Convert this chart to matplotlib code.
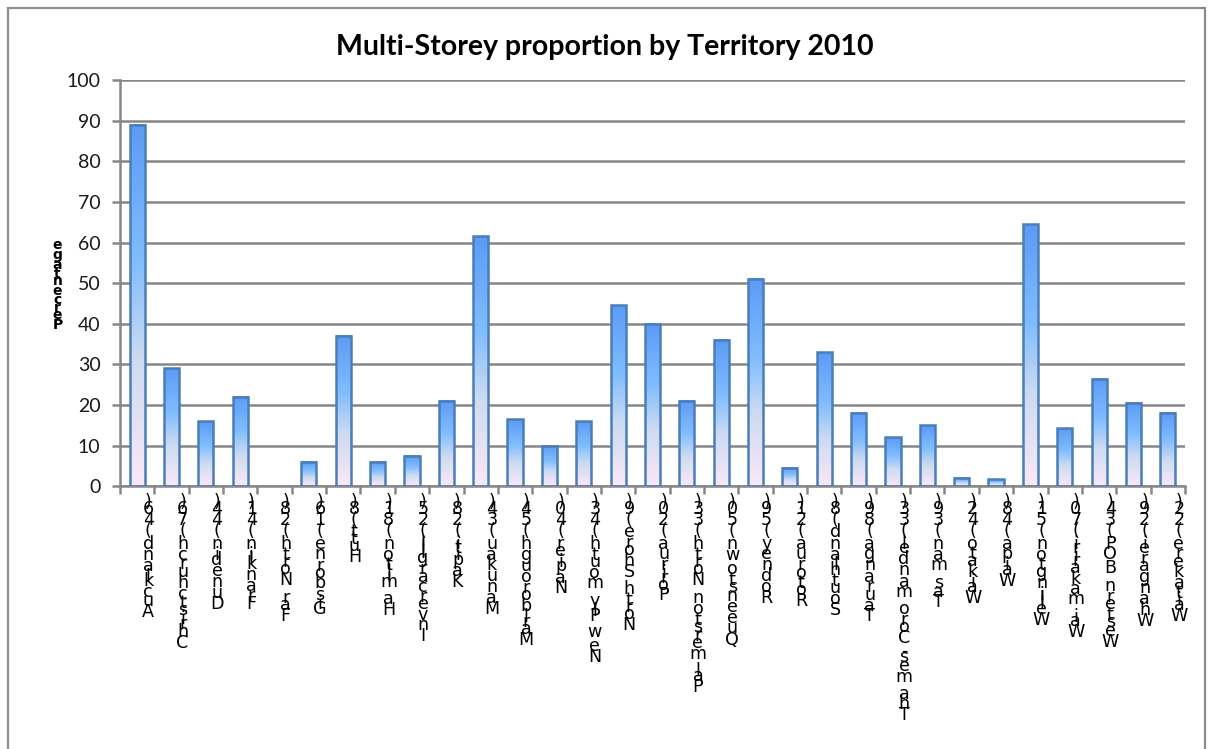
import numpy as np
import matplotlib
matplotlib.use('Agg')
import matplotlib.pyplot as plt
from matplotlib.colors import LinearSegmentedColormap
from matplotlib.font_manager import FontProperties, findfont, get_font
from matplotlib.patches import Rectangle

# Data
territories = ['Auckland (46)', 'Christchurch (76)', 'Dunedin (44)', 'Franklin (41)',
               'Far North (28)', 'Gisborne (16)', 'Hutt (8)', 'Hamilton (81)',
               'Invercargill (25)', 'Kapiti (28)', 'Manukau (34)', 'Marlborough (54)',
               'Napier (40)', 'New Plymouth (43)', 'North Shore (9)', 'Porirua (20)',
               'Palmerston North (33)', 'Queenstown (50)', 'Rodney (59)', 'Rotorua (21)',
               'Southland (8)', 'Tauranga (89)', 'Thames-Coromandel (33)', 'Tasman (39)',
               'Waikato (42)', 'Waipa (48)', 'Wellington (51)', 'Waimakariri (70)',
               'Western BOP (34)', 'Whangarei (29)', 'Waitakere (22)']
values = [89, 29, 16, 22, 0, 6, 37, 6, 7.5, 21, 61.5, 16.5, 10, 16, 44.5, 40,
          21, 36, 51, 4.5, 33, 18, 12, 15, 2, 1.7, 64.5, 14.2, 26.5, 20.5, 18]
y_ticks = list(range(0, 101, 10))

grey = '#878787'

fig = plt.figure(figsize=(12.14, 7.49), dpi=100)
ax = fig.add_axes([0.0988, 0.351, 0.8773, 0.542])

# Excel style gradient fill: blue top fading to pale pink at the bottom
grad = LinearSegmentedColormap.from_list(
    'excel', [(0, '#fbe8f7'), (0.35, '#cddbf1'), (0.62, '#80bdfe'), (1, '#5b9bf5')])
g = np.linspace(0, 1, 256).reshape(-1, 1)

x = np.arange(len(values))
width = 0.44
for xi, v in zip(x, values):
    if v > 0:
        ax.imshow(g, cmap=grad, origin='lower', aspect='auto', zorder=2,
                  extent=(xi - width / 2, xi + width / 2, 0, v))
        ax.bar(xi, v, width, facecolor='none', edgecolor='#4a7ebb',
               linewidth=1.8, zorder=3)

ax.set_xlim(-0.5, len(values) - 0.5)
ax.set_ylim(0, 100)
ax.set_yticks(y_ticks)
ax.set_xticks(np.arange(-0.5, len(values), 1))
ax.set_xticklabels([])
ax.yaxis.grid(True, color=grey, linewidth=1.8)
ax.set_axisbelow(True)
for s in ['top', 'right']:
    ax.spines[s].set_visible(False)
for s in ['left', 'bottom']:
    ax.spines[s].set_color(grey)
    ax.spines[s].set_linewidth(1.8)
ax.tick_params(axis='both', direction='out', length=6, width=1.8, color=grey)
ax.tick_params(axis='y', labelsize=14, pad=8, labelcolor='#1a1a1a')
for lab in ax.get_yticklabels():
    lab.set_family('Lato')


# Excel vertical text: upright characters stacked top to bottom (last one on top),
# each one advanced by its own width, so narrow glyphs overlap
def stacked(text, xy, xycoords, dx, start, prop, center=False):
    font = get_font(findfont(prop))
    font.set_size(prop.get_size_in_points(), 72)
    chars = list(reversed(text))
    advs = [font.load_char(ord(c)).linearHoriAdvance / 65536 for c in chars]
    if center:
        start = -sum(advs) / 2
    pos = start
    for c, a in zip(chars, advs):
        if c != ' ':
            ax.annotate(c, xy=xy, xycoords=xycoords, xytext=(dx, -pos),
                        textcoords='offset points', ha='center', va='top',
                        fontproperties=prop, annotation_clip=False)
        pos += a


lab_prop = FontProperties(family='DejaVu Sans', size=12.6)
for xi, name in zip(x, territories):
    stacked(name, (xi, 0), ('data', 'axes fraction'), 8, 5, lab_prop)

ylab_prop = FontProperties(family='DejaVu Sans', size=10, weight='bold')
stacked('Percentage', (0, 0.5), 'axes fraction', -45, 0, ylab_prop, center=True)

fig.text(0.498, 1 - 47 / 749, 'Multi-Storey proportion by Territory 2010',
         ha='center', va='center', fontsize=20.5, fontweight='bold', family='Lato')

# chart area border
fig.add_artist(Rectangle((8 / 1214, -0.05), 1197 / 1214, 1.039, transform=fig.transFigure,
                         facecolor='none', edgecolor='#8c8c8c', linewidth=1.6, clip_on=False))

fig.savefig('out.png', dpi=100)
